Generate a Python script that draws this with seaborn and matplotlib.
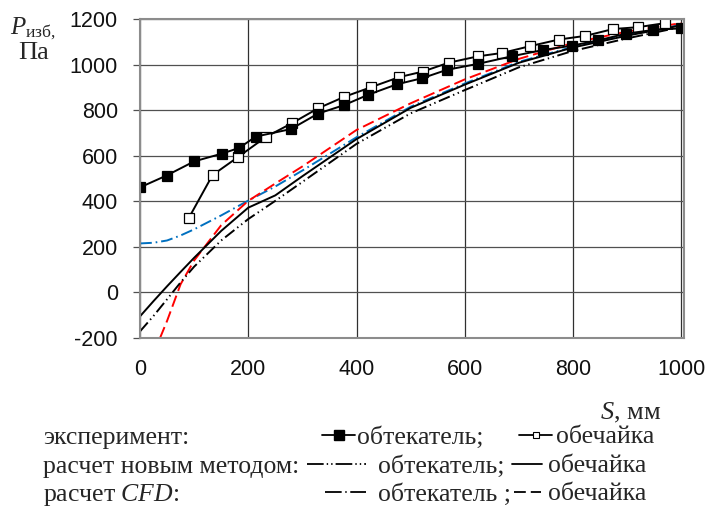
import matplotlib
matplotlib.use("Agg")
import matplotlib.pyplot as plt
import seaborn as sns
import pandas as pd
from matplotlib.lines import Line2D

# Experimental points
exp_fair_s = [0, 49, 100, 151, 183, 214, 279, 329, 377, 422, 474, 521, 567, 624, 688, 745, 798, 846, 897, 948, 1000]
exp_fair_p = [461, 513, 575, 609, 634, 684, 717, 785, 822, 868, 913, 940, 977, 1003, 1037, 1064, 1083, 1106, 1135, 1152, 1159]

exp_shell_s = [90, 134, 181, 233, 281, 329, 377, 426, 479, 522, 570, 624, 669, 721, 774, 823, 874, 920, 970]
exp_shell_p = [326, 515, 594, 683, 743, 808, 858, 900, 945, 969, 1008, 1036, 1051, 1081, 1110, 1126, 1156, 1164, 1182]

# Calculated curves
calc_s = [0, 25, 50, 75, 100, 150, 200, 250, 300, 400, 500, 600, 700, 800, 900, 1000]
new_fair_p = [-171, -103, -30, 44, 113, 228, 322, 402, 485, 652, 786, 888, 988, 1060, 1115, 1165]
new_shell_p = [-105, -38, 27, 90, 152, 270, 372, 426, 510, 673, 810, 912, 1008, 1075, 1127, 1172]
cfd_fair_p = [215, 218, 228, 250, 277, 338, 403, 465, 535, 681, 815, 917, 1012, 1078, 1130, 1175]

cfd_shell_s = [37, 50, 75, 100, 150, 200, 250, 300, 400, 500, 600, 700, 800, 900, 1000]
cfd_shell_p = [-200, -125, 36, 140, 295, 402, 478, 553, 713, 830, 935, 1025, 1095, 1145, 1182]

x_ticks = [0, 200, 400, 600, 800, 1000]
y_ticks = [-200, 0, 200, 400, 600, 800, 1000, 1200]

sns.set_style("white")
plt.rcParams["font.family"] = ["Liberation Sans", "DejaVu Sans"]
plt.rcParams["mathtext.fontset"] = "custom"
plt.rcParams["mathtext.rm"] = "Liberation Serif"
plt.rcParams["mathtext.it"] = "Liberation Serif:italic"
plt.rcParams["lines.scale_dashes"] = False
plt.rcParams["axes.unicode_minus"] = False

W, H = 708, 509
fig = plt.figure(figsize=(W / 100, H / 100), dpi=100)
ax = fig.add_axes([140 / W, 1 - 338 / H, 544 / W, 319 / H])

dash_dot_dot = (0, (8.5, 2.6, 1.0, 2.6, 1.0, 2.6))
dash_dot = (0, (8.5, 2.8, 1.2, 2.8))
dashed = (0, (8.5, 3.6))

df_calc = pd.DataFrame({"s": calc_s, "new_fair": new_fair_p,
                        "new_shell": new_shell_p, "cfd_fair": cfd_fair_p})

sns.lineplot(data=df_calc, x="s", y="cfd_fair", ax=ax, color="#0070C0", lw=1.4,
             linestyle=dash_dot, estimator=None, sort=False, legend=False)
sns.lineplot(x=cfd_shell_s, y=cfd_shell_p, ax=ax, color="#FF0000", lw=1.4,
             linestyle=dashed, estimator=None, sort=False, legend=False)
sns.lineplot(data=df_calc, x="s", y="new_shell", ax=ax, color="black", lw=1.4,
             estimator=None, sort=False, legend=False)
sns.lineplot(data=df_calc, x="s", y="new_fair", ax=ax, color="black", lw=1.4,
             linestyle=dash_dot_dot, estimator=None, sort=False, legend=False)

sns.lineplot(x=exp_shell_s, y=exp_shell_p, ax=ax, color="black", lw=1.4,
             marker="s", markersize=7.5, markerfacecolor="white",
             markeredgecolor="black", markeredgewidth=0.9,
             estimator=None, sort=False, legend=False)
sns.lineplot(x=exp_fair_s, y=exp_fair_p, ax=ax, color="black", lw=1.4,
             marker="s", markersize=7.5, markerfacecolor="black",
             markeredgecolor="black", markeredgewidth=0.9,
             estimator=None, sort=False, legend=False)

ax.set_xlim(0, 1005)
ax.set_ylim(-200, 1200)
ax.set_xticks(x_ticks)
ax.set_yticks(y_ticks)
ax.set_xlabel("")
ax.set_ylabel("")
ax.xaxis.grid(True, color="#303030", lw=0.9)
ax.yaxis.grid(True, color="#505050", lw=0.9)
ax.set_axisbelow(True)
for sp in ax.spines.values():
    sp.set_color("#8c8c8c")
    sp.set_linewidth(1.5)
ax.tick_params(axis="y", length=5, width=0.9, color="#505050", pad=11,
               labelsize=15.5, labelcolor="#111111", left=True)
ax.tick_params(axis="x", length=0, pad=15, labelsize=15.5, labelcolor="#111111")

serif = "Liberation Serif"
fs = 18.5
# axis titles
fig.text(10 / W, 1 - 34 / H, r"$P_{\mathrm{изб,}}$", family=serif, fontsize=18,
         ha="left", va="baseline")
fig.text(18 / W, 1 - 59 / H, "Па", family=serif, fontsize=19, ha="left", va="baseline")
fig.text(600 / W, 1 - 419 / H, r"$S$, мм", family=serif, fontsize=19,
         ha="left", va="baseline")

# legend block
row_y = [438, 467, 495]
row_titles = ["эксперимент:", "расчет новым методом:", r"расчет $CFD$:"]
for yy, t in zip(row_y, row_titles):
    fig.text(43 / W, 1 - (yy + 6) / H, t, family=serif, fontsize=fs,
             ha="left", va="baseline")

keys = [
    (Line2D([], [], color="black", lw=1.3, marker="s", markersize=6.5,
            markerfacecolor="black"), "обтекатель;", 322, 0, 1.3, 0.06),
    (Line2D([], [], color="black", lw=1.3, marker="s", markersize=5,
            markerfacecolor="white", markeredgewidth=0.8), "обечайка", 519, 0, 1.3, 0.14),
    (Line2D([], [], color="black", lw=1.3, linestyle=(0, (12, 2.2, 1, 2.2, 1, 2.2))),
     "обтекатель;", 307, 1, 2.3, 0.45),
    (Line2D([], [], color="black", lw=1.3), "обечайка", 512, 1, 1.15, 0.26),
    (Line2D([], [], color="black", lw=1.3, linestyle=(0, (12, 2.6, 1, 2.6))),
     "обтекатель ;", 325, 2, 1.6, 0.45),
    (Line2D([], [], color="black", lw=1.3, linestyle=(0, (8.5, 3.6))),
     "обечайка", 514, 2, 1.05, 0.26),
]
for h, lab, x0, r, hl, pad in keys:
    fig.legend(handles=[h], labels=[lab], loc="center left",
               bbox_to_anchor=(x0 / W, 1 - (row_y[r] - 1) / H),
               frameon=False, borderpad=0, borderaxespad=0,
               handlelength=hl, handletextpad=pad,
               prop={"family": serif, "size": fs})

fig.savefig("out.png", dpi=100, facecolor="white")
